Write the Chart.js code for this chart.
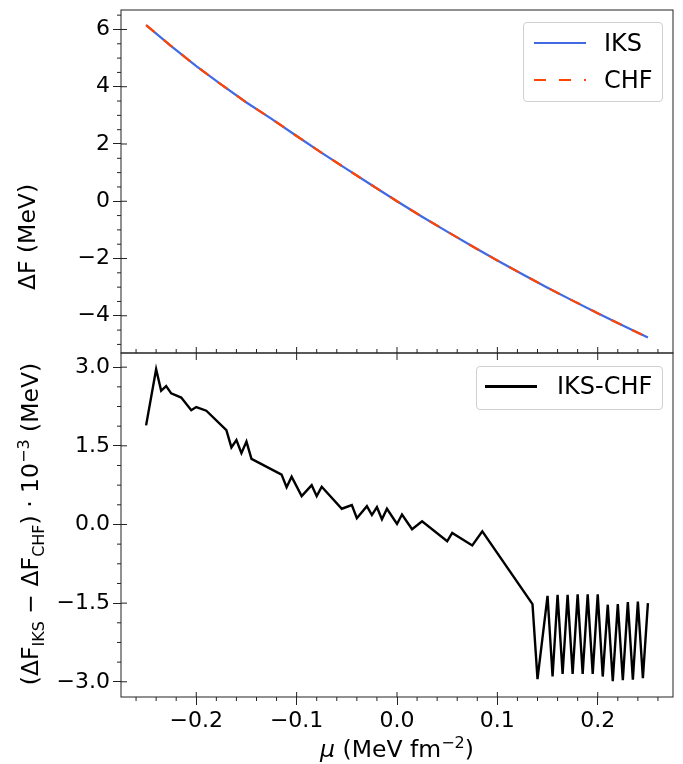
<!DOCTYPE html>
<html lang="en">
<head>
    <meta charset="UTF-8">
    <title>ΔF IKS vs CHF</title>
    <script src="https://cdn.jsdelivr.net/npm/chart.js"></script>
    <style>
        body { margin: 0; background: #fff; font-family: "DejaVu Sans", sans-serif; }
        #wrap { position: relative; width: 683px; height: 764px; }
        .pane { position: absolute; left: 0; }
        .legend { position: absolute; border: 1px solid #d0d0d0; border-radius: 4px; background: rgba(255,255,255,0.8); box-sizing: border-box; }
        .entry { position: absolute; font-size: 24px; line-height: 24px; color: #000; }
        .sample { position: absolute; height: 2px; }
        .ytitle { position: absolute; font-size: 23.5px; white-space: nowrap; transform: translate(-50%, -50%) rotate(-90deg); }
        .xtitle { position: absolute; font-size: 23.5px; white-space: nowrap; transform: translate(-50%, -50%); }
        sub, sup { font-size: 16px; }
    </style>
</head>
<body>
<div id="wrap">
    <div class="pane" style="top:0"><canvas id="topChart" width="683" height="360"></canvas></div>
    <div class="pane" style="top:346px"><canvas id="diffChart" width="683" height="418"></canvas></div>

    <div class="legend" style="left:523px; top:22px; width:140px; height:80px;">
        <div class="sample" style="left:10px; top:19px; width:52px; background:#4169e1;"></div>
        <div class="entry" style="left:80px; top:8px;">IKS</div>
        <div class="sample" style="left:10px; top:56px; width:52px; background:repeating-linear-gradient(90deg, #ff4500 0 12px, transparent 12px 25px);"></div>
        <div class="entry" style="left:80px; top:45px;">CHF</div>
    </div>
    <div class="legend" style="left:476px; top:366px; width:187px; height:44px;">
        <div class="sample" style="left:8px; top:18px; width:52px; height:2.5px; background:#000;"></div>
        <div class="entry" style="left:80px; top:7px;">IKS-CHF</div>
    </div>

    <div class="ytitle" style="left:27px; top:237px;">ΔF (MeV)</div>
    <div class="ytitle" style="left:31px; top:524px;">(ΔF<sub>IKS</sub> − ΔF<sub>CHF</sub>) · 10<sup>−3</sup> (MeV)</div>
    <div class="xtitle" style="left:397px; top:748px;"><i>μ</i> (MeV fm<sup>−2</sup>)</div>
</div>

<script>
    // 上图：ΔF 随 μ 的变化
    const muTop = [-0.25, -0.225, -0.2, -0.175, -0.15, -0.125, -0.1, -0.075, -0.05, -0.025, 0,
                   0.025, 0.05, 0.075, 0.1, 0.125, 0.15, 0.175, 0.2, 0.225, 0.25];
    const iksF = [6.15, 5.42, 4.72, 4.07, 3.45, 2.88, 2.28, 1.69, 1.12, 0.56, 0,
                  -0.54, -1.06, -1.57, -2.07, -2.55, -3.02, -3.47, -3.91, -4.34, -4.76];
    const chfF = [6.15, 5.42, 4.72, 4.07, 3.45, 2.88, 2.28, 1.69, 1.12, 0.56, 0,
                  -0.54, -1.06, -1.57, -2.07, -2.55, -3.02, -3.47, -3.91, -4.34, -4.76];

    // 下图：差值 (×10^-3 MeV)
    const muDiff = [-0.25, -0.24, -0.235, -0.23, -0.225, -0.215, -0.205, -0.2, -0.19, -0.17,
                    -0.165, -0.16, -0.155, -0.15, -0.145, -0.115, -0.11, -0.105, -0.095, -0.085,
                    -0.08, -0.075, -0.055, -0.045, -0.04, -0.03, -0.025, -0.02, -0.015, -0.01,
                    0, 0.005, 0.015, 0.025, 0.05, 0.055, 0.075, 0.085, 0.135, 0.14,
                    0.15, 0.155, 0.16, 0.165, 0.17, 0.175, 0.18, 0.185, 0.19, 0.195,
                    0.2, 0.205, 0.21, 0.215, 0.22, 0.225, 0.23, 0.235, 0.24, 0.245, 0.25];
    const diffVals = [1.89, 2.96, 2.55, 2.64, 2.50, 2.42, 2.18, 2.24, 2.17, 1.80,
                      1.47, 1.61, 1.36, 1.58, 1.25, 0.95, 0.71, 0.91, 0.54, 0.75,
                      0.54, 0.72, 0.30, 0.37, 0.12, 0.35, 0.18, 0.33, 0.10, 0.30,
                      0.01, 0.19, -0.09, 0.06, -0.32, -0.16, -0.40, -0.13, -1.52, -2.95,
                      -1.36, -2.90, -1.34, -2.85, -1.34, -2.85, -1.33, -2.85, -1.33, -2.85,
                      -1.33, -2.90, -1.53, -2.99, -1.52, -2.97, -1.48, -2.96, -1.47, -2.93, -1.50];

    // 刻度
    const xTickVals = [-0.2, -0.1, 0.0, 0.1, 0.2];
    const topTickVals = [-4, -2, 0, 2, 4, 6];
    const diffTickVals = [-3.0, -1.5, 0.0, 1.5, 3.0];

    const minus = s => s.replace('-', '\u2212');
    const pts = (xs, ys) => xs.map((x, i) => ({ x: x, y: ys[i] }));
    const font = { family: 'DejaVu Sans', size: 22 };

    // 边框和次刻度
    const tickMarks = {
        id: 'tickMarks',
        afterDraw(chart, args, o) {
            const ctx = chart.ctx, a = chart.chartArea;
            const xs = chart.scales.x, ys = chart.scales.y;
            const line = (x1, y1, x2, y2) => { ctx.beginPath(); ctx.moveTo(x1, y1); ctx.lineTo(x2, y2); ctx.stroke(); };
            const isMajor = (v, m) => Math.abs(v / m - Math.round(v / m)) < 1e-6;
            ctx.save();
            ctx.strokeStyle = '#222';
            ctx.lineWidth = 1;
            ctx.strokeRect(a.left, a.top, a.right - a.left, a.bottom - a.top);

            for (let k = Math.ceil(ys.min / o.yMinor); k * o.yMinor <= ys.max; k++) {
                const v = k * o.yMinor, py = ys.getPixelForValue(v);
                if (isMajor(v, o.yMajor)) line(a.left, py, a.left + 6, py);
                else line(a.left - 4, py, a.left, py);
            }
            for (let k = Math.ceil(xs.min / o.xMinor); k * o.xMinor <= xs.max; k++) {
                const v = k * o.xMinor, px = xs.getPixelForValue(v);
                if (o.shared) {
                    if (isMajor(v, o.xMajor)) line(px, a.bottom - 6, px, a.bottom + 7);
                    else line(px, a.bottom - 4, px, a.bottom);
                } else {
                    if (isMajor(v, o.xMajor)) line(px, a.bottom - 5, px, a.bottom);
                    else line(px, a.bottom, px, a.bottom + 4);
                }
            }
            ctx.restore();
        }
    };

    const tickGrid = { display: true, drawOnChartArea: false, drawTicks: true, tickLength: 8, tickColor: '#222' };
    const fixY = s => { s.width = 121; s.paddingTop = 0; s.paddingBottom = 0; };

    new Chart(document.getElementById('topChart'), {
        type: 'line',
        data: {
            datasets: [
                { label: 'IKS', data: pts(muTop, iksF), borderColor: '#4169e1', borderWidth: 2.2, pointRadius: 0, order: 2 },
                { label: 'CHF', data: pts(muTop, chfF), borderColor: '#ff4500', borderWidth: 2.2, borderDash: [11, 12], pointRadius: 0, order: 1 }
            ]
        },
        options: {
            responsive: false,
            animation: false,
            layout: { padding: { top: 10, right: 10, bottom: 7, left: 0 } },
            plugins: {
                legend: { display: false },
                tooltip: { enabled: false },
                tickMarks: { shared: true, xMinor: 0.02, xMajor: 0.1, yMinor: 0.5, yMajor: 2 }
            },
            scales: {
                x: { type: 'linear', display: false, min: -0.275, max: 0.275 },
                y: {
                    min: -5.3, max: 6.68,
                    afterFit: fixY,
                    afterBuildTicks: s => { s.ticks = topTickVals.map(v => ({ value: v })); },
                    grid: tickGrid,
                    border: { display: false },
                    ticks: { font: font, color: '#000', padding: 3, callback: v => minus(v.toFixed(0)) }
                }
            }
        },
        plugins: [tickMarks]
    });

    new Chart(document.getElementById('diffChart'), {
        type: 'line',
        data: {
            datasets: [
                { label: 'IKS-CHF', data: pts(muDiff, diffVals), borderColor: '#000', borderWidth: 2.4, pointRadius: 0 }
            ]
        },
        options: {
            responsive: false,
            animation: false,
            layout: { padding: { top: 7, right: 10, bottom: 0, left: 0 } },
            plugins: {
                legend: { display: false },
                tooltip: { enabled: false },
                tickMarks: { shared: false, xMinor: 0.02, xMajor: 0.1, yMinor: 0.375, yMajor: 1.5 }
            },
            scales: {
                x: {
                    type: 'linear', min: -0.275, max: 0.275,
                    afterFit: s => { s.height = 67; s.paddingLeft = 0; s.paddingRight = 0; },
                    afterBuildTicks: s => { s.ticks = xTickVals.map(v => ({ value: v })); },
                    grid: tickGrid,
                    border: { display: false },
                    ticks: { font: font, color: '#000', padding: 3, maxRotation: 0, autoSkip: false,
                             callback: v => minus(v.toFixed(1)) }
                },
                y: {
                    min: -3.29, max: 3.27,
                    afterFit: fixY,
                    afterBuildTicks: s => { s.ticks = diffTickVals.map(v => ({ value: v })); },
                    grid: tickGrid,
                    border: { display: false },
                    ticks: { font: font, color: '#000', padding: 3, callback: v => minus(v.toFixed(1)) }
                }
            }
        },
        plugins: [tickMarks]
    });
</script>
</body>
</html>
